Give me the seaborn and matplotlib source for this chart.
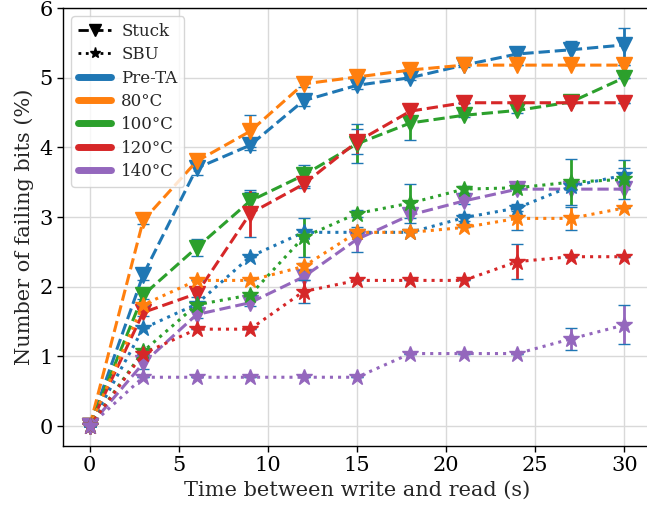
import pandas as pd
import numpy as np
import matplotlib.pyplot as plt
import seaborn as sns
from matplotlib.lines import Line2D

# data
times = [0, 3, 6, 9, 12, 15, 18, 21, 24, 27, 30]
temps = ['Pre-TA', '80°C', '100°C', '120°C', '140°C']
colors = ['#1f77b4', '#ff7f0e', '#2ca02c', '#d62728', '#9467bd']

stuck_pre = [0, 2.17, 3.70, 4.03, 4.67, 4.89, 5.00, 5.18, 5.34, 5.40, 5.47]
stuck_80 = [0, 2.95, 3.80, 4.23, 4.91, 5.01, 5.11, 5.18, 5.18, 5.18, 5.18]
stuck_100 = [0, 1.88, 2.56, 3.23, 3.60, 4.05, 4.35, 4.46, 4.53, 4.65, 5.00]
stuck_120 = [0, 1.63, 1.90, 3.05, 3.47, 4.08, 4.52, 4.64, 4.64, 4.64, 4.64]
stuck_140 = [0, 0.90, 1.60, 1.77, 2.14, 2.68, 3.03, 3.23, 3.40, 3.40, 3.40]

stuck_err_pre = [0, 0.08, 0.10, 0.07, 0.07, 0.05, 0.03, 0.03, 0.05, 0.13, 0.24]
stuck_err_80 = [0, 0.05, 0.05, 0.23, 0.05, 0.02, 0.02, 0, 0, 0, 0]
stuck_err_100 = [0, 0.05, 0.12, 0.13, 0.15, 0.28, 0.25, 0.03, 0.04, 0, 0]
stuck_err_120 = [0, 0.05, 0.05, 0.34, 0.05, 0.18, 0.08, 0, 0, 0, 0]
stuck_err_140 = [0, 0.08, 0.05, 0.05, 0.05, 0.18, 0.05, 0.05, 0, 0, 0]

sbu_pre = [0, 1.40, 1.75, 2.43, 2.78, 2.78, 2.78, 2.99, 3.13, 3.44, 3.60]
sbu_80 = [0, 1.74, 2.09, 2.09, 2.29, 2.78, 2.78, 2.85, 2.98, 2.98, 3.13]
sbu_100 = [0, 1.07, 1.74, 1.88, 2.71, 3.05, 3.20, 3.40, 3.42, 3.50, 3.54]
sbu_120 = [0, 1.04, 1.39, 1.39, 1.93, 2.09, 2.09, 2.09, 2.36, 2.43, 2.43]
sbu_140 = [0, 0.70, 0.70, 0.70, 0.70, 0.70, 1.04, 1.04, 1.04, 1.25, 1.45]

sbu_err_pre = [0, 0, 0, 0, 0, 0, 0, 0.05, 0.05, 0.05, 0.10]
sbu_err_80 = [0, 0, 0, 0, 0.05, 0, 0, 0, 0.17, 0.17, 0]
sbu_err_100 = [0, 0, 0, 0, 0.28, 0.05, 0.28, 0.05, 0, 0.33, 0.28]
sbu_err_120 = [0, 0, 0, 0, 0.17, 0, 0, 0, 0.25, 0, 0]
sbu_err_140 = [0, 0, 0, 0, 0, 0, 0, 0, 0, 0.16, 0.28]

stuck = [stuck_pre, stuck_80, stuck_100, stuck_120, stuck_140]
stuck_err = [stuck_err_pre, stuck_err_80, stuck_err_100, stuck_err_120, stuck_err_140]
sbu = [sbu_pre, sbu_80, sbu_100, sbu_120, sbu_140]
sbu_err = [sbu_err_pre, sbu_err_80, sbu_err_100, sbu_err_120, sbu_err_140]


def long_form(vals, errs):
    rows = []
    for t, v, e in zip(temps, vals, errs):
        for x, y, s in zip(times, v, e):
            rows.append({'time': x, 'value': y, 'err': s, 'temp': t})
    return pd.DataFrame(rows)


df_stuck = long_form(stuck, stuck_err)
df_sbu = long_form(sbu, sbu_err)

sns.set_style('ticks')
plt.rcParams['font.family'] = ['DejaVu Serif']
plt.rcParams['font.size'] = 15

fig = plt.figure(figsize=(6.47, 5.12), dpi=100)
ax = fig.add_axes([63 / 647, 66 / 512, 588 / 647, 438 / 512])
palette = dict(zip(temps, colors))

#stuck first, then SBU
for df, mk, ls in [(df_stuck, 'v', '--'), (df_sbu, '*', ':')]:
    for t in temps:
        d = df[df['temp'] == t]
        ax.errorbar(d['time'], d['value'], yerr=d['err'], fmt='none',
                    ecolor=palette[t], elinewidth=2, capsize=4.5, capthick=2)
    sns.lineplot(data=df, x='time', y='value', hue='temp', palette=palette,
                 marker=mk, markersize=12, linestyle=ls, linewidth=2.2,
                 errorbar=None, legend=False, ax=ax)

for line in ax.lines:
    line.set_markeredgecolor(line.get_color())
    line.set_markeredgewidth(1)

ax.set_xlim(-1.5, 31.5)
ax.set_ylim(-0.287, 6)
ax.set_xticks([0, 5, 10, 15, 20, 25, 30])
ax.grid(True, color='#d9d9d9', linewidth=1)
ax.set_axisbelow(True)
for s in ax.spines.values():
    s.set_color('black')
    s.set_linewidth(1)
ax.spines['right'].set_visible(False)  # cut off at the image edge in the reference
ax.tick_params(colors='black', labelsize=15, length=4, width=1)
ax.set_xlabel('Time between write and read (s)', fontsize=15)
ax.set_ylabel('Number of failing bits (%)', fontsize=15)

handles = [Line2D([], [], color='black', linestyle='--', marker='v', markersize=8, lw=2, label='Stuck'),
           Line2D([], [], color='black', linestyle=':', marker='*', markersize=8, lw=2, label='SBU')]
for t in temps:
    handles.append(Line2D([], [], color=palette[t], lw=5, label=t))
ax.legend(handles=handles, loc='upper left', fontsize=12, handlelength=2.0,
          labelspacing=0.38, handletextpad=0.6, borderpad=0.4,
          framealpha=0.8, edgecolor='#cccccc', fancybox=True)

fig.savefig('out.png', dpi=100)
